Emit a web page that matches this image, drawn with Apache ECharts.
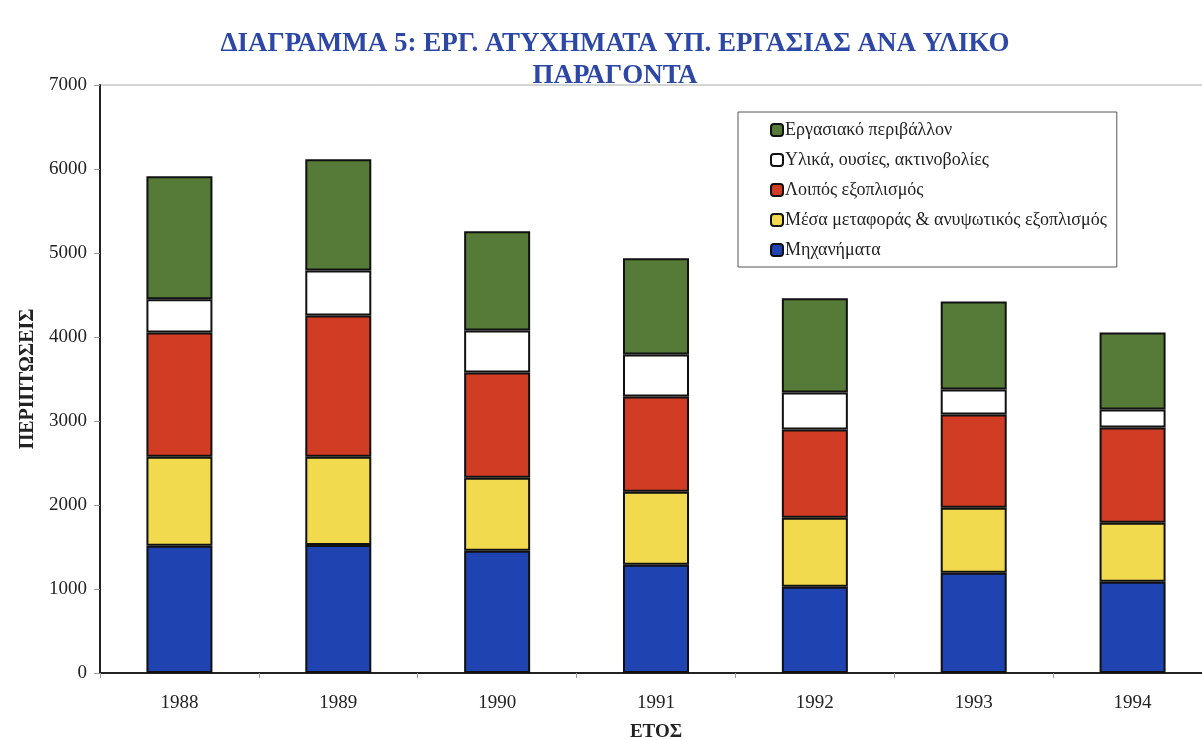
<!DOCTYPE html>
<html>
<head>
<meta charset="utf-8">
<script src="https://cdn.jsdelivr.net/npm/echarts@6/dist/echarts.min.js"></script>
<style>
  html, body { margin: 0; padding: 0; background: #fff; }
  #chart { width: 1202px; height: 740px; }
</style>
</head>
<body>
<div id="chart"></div>
<script>
// έτη
var years = ['1988', '1989', '1990', '1991', '1992', '1993', '1994'];

// περιπτώσεις ανά υλικό παράγοντα (από κάτω προς τα πάνω)
var mixanimata = [1515, 1525, 1455, 1288, 1026, 1192, 1085];
var mesaMetaforas = [1060, 1050, 870, 870, 822, 776, 704];
var loiposExoplismos = [1480, 1680, 1252, 1133, 1050, 1109, 1133];
var ylika = [395, 537, 501, 501, 441, 298, 214];
var perivallon = [1465, 1323, 1181, 1145, 1121, 1049, 918];

var names = [
    'Μηχανήματα',
    'Μέσα μεταφοράς & ανυψωτικός εξοπλισμός',
    'Λοιπός εξοπλισμός',
    'Υλικά, ουσίες, ακτινοβολίες',
    'Εργασιακό περιβάλλον'
];
var colors = ['#1f43b0', '#f2da4e', '#d13c24', '#ffffff', '#567b39'];
var dataList = [mixanimata, mesaMetaforas, loiposExoplismos, ylika, perivallon];

var font = '"Liberation Serif", "DejaVu Serif", serif';

var chart = echarts.init(document.getElementById('chart'));

var series = names.map(function (n, i) {
    return {
        name: n,
        type: 'bar',
        stack: 'total',
        barWidth: 66,
        data: dataList[i],
        itemStyle: {
            color: colors[i],
            borderColor: '#111',
            borderWidth: 2
        }
    };
});

var option = {
    backgroundColor: '#fff',
    animation: false,
    title: {
        text: 'ΔΙΑΓΡΑΜΜΑ 5: ΕΡΓ. ΑΤΥΧΗΜΑΤΑ ΥΠ. ΕΡΓΑΣΙΑΣ ΑΝΑ ΥΛΙΚΟ\nΠΑΡΑΓΟΝΤΑ',
        left: 610,
        textAlign: 'center',
        top: 23,
        textStyle: {
            fontFamily: font,
            fontSize: 27,
            fontWeight: 'bold',
            color: '#2c47a6',
            lineHeight: 32
        }
    },
    legend: {
        orient: 'vertical',
        left: 738,
        top: 112,
        width: 380,
        padding: [9, 10, 8, 32],
        itemGap: 12,
        itemWidth: 12,
        itemHeight: 12,
        backgroundColor: '#fff',
        borderColor: '#555',
        borderWidth: 1,
        data: names.slice().reverse(),
        itemStyle: { borderColor: '#111', borderWidth: 2 },
        textStyle: { fontFamily: font, fontSize: 18, color: '#222', padding: [0, 0, 0, -3] }
    },
    grid: {
        left: 100,
        width: 1112,
        top: 85,
        bottom: 67,
        outerBoundsMode: 'none',
        show: true,
        borderColor: '#aaa',
        borderWidth: 1
    },
    xAxis: {
        type: 'category',
        data: years,
        name: 'ΕΤΟΣ',
        nameLocation: 'middle',
        nameGap: 50,
        nameTextStyle: { fontFamily: font, fontSize: 19, fontWeight: 'bold', color: '#222' },
        axisLine: { lineStyle: { color: '#222', width: 2 } },
        axisTick: { show: true, length: 5, lineStyle: { color: '#999' } },
        axisLabel: { fontFamily: font, fontSize: 19, color: '#222', margin: 21 }
    },
    yAxis: {
        type: 'value',
        min: 0,
        max: 7000,
        interval: 1000,
        name: 'ΠΕΡΙΠΤΩΣΕΙΣ',
        nameLocation: 'middle',
        nameGap: 60,
        nameTextStyle: { fontFamily: font, fontSize: 20, fontWeight: 'bold', color: '#222' },
        splitLine: { show: false },
        axisLine: { show: true, lineStyle: { color: '#222', width: 2 } },
        axisTick: { show: true, length: 6, lineStyle: { color: '#999' } },
        axisLabel: {
            fontFamily: font, fontSize: 19, color: '#222', margin: 13,
            formatter: function (v) { return String(v); }
        }
    },
    series: series
};

chart.setOption(option);
</script>
</body>
</html>
